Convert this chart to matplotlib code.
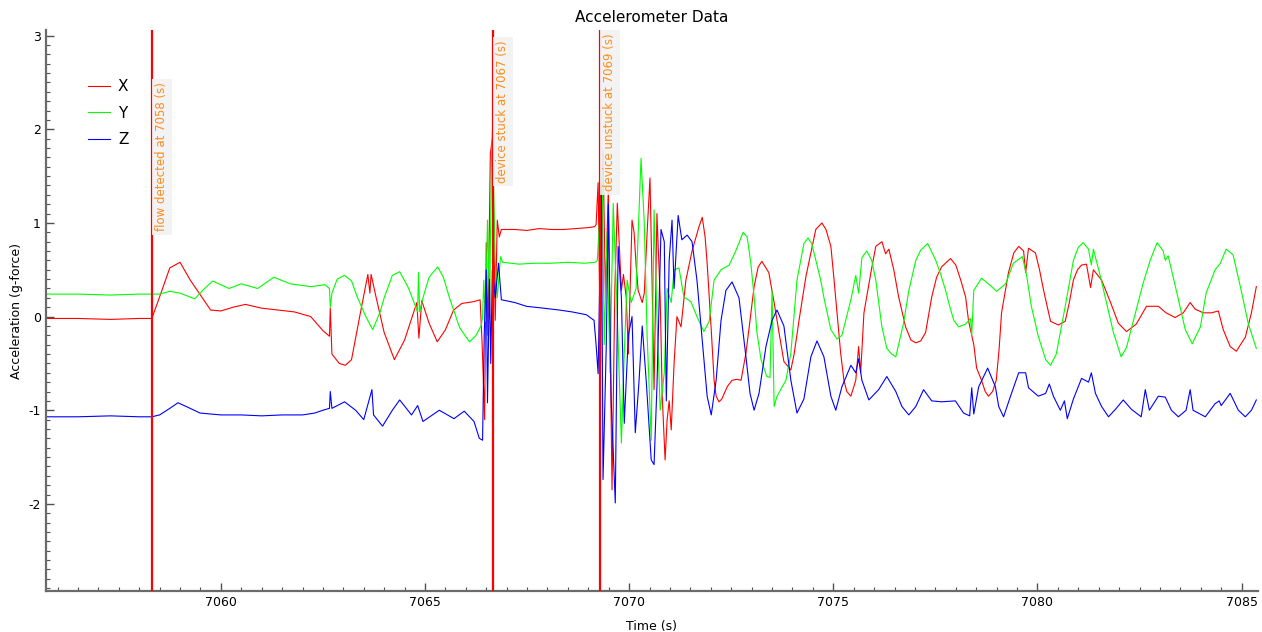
import matplotlib
matplotlib.use("Agg")
import matplotlib.pyplot as plt
from matplotlib.ticker import MultipleLocator

plt.rcParams["axes.unicode_minus"] = False

# accelerometer samples: (time s, acceleration g)
x_pts = [(7055.71, -0.02), (7056.5, -0.02), (7057.3, -0.03), (7058.0, -0.02), (7058.31, -0.02),
         (7058.5, 0.21), (7058.75, 0.52), (7059.0, 0.58), (7059.25, 0.39), (7059.5, 0.23),
         (7059.75, 0.07), (7060.0, 0.06), (7060.3, 0.10), (7060.6, 0.13), (7061.0, 0.09),
         (7061.4, 0.07), (7061.8, 0.05), (7062.2, 0.0), (7062.5, -0.15), (7062.66, -0.21),
         (7062.68, 0.09), (7062.72, -0.40), (7062.9, -0.50), (7063.05, -0.52), (7063.2, -0.46),
         (7063.4, 0.0), (7063.6, 0.45), (7063.65, 0.25), (7063.68, 0.45), (7063.8, 0.21),
         (7064.0, -0.17), (7064.25, -0.46), (7064.5, -0.25), (7064.8, 0.15), (7064.85, -0.23),
         (7064.92, 0.17), (7065.1, -0.07), (7065.3, -0.27), (7065.5, -0.14), (7065.7, 0.07),
         (7065.9, 0.14), (7066.2, 0.16), (7066.35, 0.18),
         (7066.40, -0.3), (7066.46, -1.1), (7066.50, 0.79), (7066.54, -0.2), (7066.60, 1.74),
         (7066.65, 1.9), (7066.72, -0.04), (7066.77, 1.03), (7066.82, 0.85), (7066.87, 0.93),
         (7067.2, 0.93), (7067.5, 0.92), (7067.8, 0.94), (7068.1, 0.93), (7068.4, 0.93),
         (7068.7, 0.94), (7069.0, 0.95), (7069.15, 0.96),
         (7069.19, 0.98), (7069.24, 1.43), (7069.30, -0.5), (7069.36, 1.78), (7069.42, 0.2),
         (7069.49, 1.39), (7069.58, -1.85), (7069.65, 0.3), (7069.71, 1.21), (7069.81, 0.28),
         (7069.86, 0.45), (7069.93, 0.2), (7069.98, -0.4), (7070.07, 1.03), (7070.12, 0.9),
         (7070.17, 0.55), (7070.22, 0.28), (7070.32, 0.15), (7070.37, 0.25), (7070.44, 0.9),
         (7070.51, 1.48), (7070.56, 0.4), (7070.61, -0.78), (7070.68, 1.1), (7070.76, 0.2),
         (7070.81, -0.85), (7070.88, -1.53), (7070.93, -1.1), (7070.98, -0.9), (7071.03, -1.21),
         (7071.10, -0.5), (7071.17, 0.0), (7071.27, -0.11), (7071.39, 0.39), (7071.54, 0.7),
         (7071.71, 0.96), (7071.79, 1.06), (7071.86, 0.85), (7071.91, 0.57), (7072.01, -0.14),
         (7072.08, -0.68), (7072.13, -0.85), (7072.20, -0.91), (7072.27, -0.88), (7072.40, -0.75),
         (7072.52, -0.68), (7072.64, -0.67), (7072.74, -0.68), (7072.86, -0.39), (7072.96, -0.04),
         (7073.06, 0.32), (7073.16, 0.53), (7073.25, 0.59), (7073.42, 0.47), (7073.55, 0.15),
         (7073.67, -0.17), (7073.79, -0.48), (7073.96, -0.57), (7074.04, -0.4), (7074.16, -0.04),
         (7074.33, 0.43), (7074.57, 0.93), (7074.72, 1.0), (7074.82, 0.93), (7074.94, 0.75),
         (7075.01, 0.43), (7075.09, 0.04), (7075.18, -0.39), (7075.26, -0.68), (7075.33, -0.8),
         (7075.43, -0.85), (7075.55, -0.68), (7075.62, -0.32), (7075.67, -0.6), (7075.75, 0.04),
         (7075.92, 0.47), (7076.04, 0.75), (7076.19, 0.8), (7076.28, 0.67), (7076.36, 0.72),
         (7076.48, 0.5), (7076.60, 0.21), (7076.77, -0.11), (7076.9, -0.25), (7077.02, -0.28),
         (7077.14, -0.26), (7077.26, -0.17), (7077.41, 0.21), (7077.53, 0.42), (7077.65, 0.53),
         (7077.87, 0.62), (7078.0, 0.55), (7078.12, 0.39), (7078.24, 0.21), (7078.31, -0.04),
         (7078.44, -0.3), (7078.51, -0.55), (7078.63, -0.68), (7078.72, -0.8), (7078.8, -0.85),
         (7078.9, -0.8), (7078.99, -0.68), (7079.06, -0.35), (7079.12, 0.04), (7079.29, 0.47),
         (7079.42, 0.68), (7079.54, 0.75), (7079.66, 0.70), (7079.71, 0.47), (7079.78, 0.73),
         (7079.95, 0.68), (7080.05, 0.5), (7080.15, 0.28), (7080.32, -0.05), (7080.51, -0.09),
         (7080.68, -0.05), (7080.78, 0.15), (7080.88, 0.39), (7080.98, 0.5), (7081.08, 0.55),
         (7081.2, 0.56), (7081.3, 0.31), (7081.37, 0.5), (7081.57, 0.39), (7081.79, 0.15),
         (7081.98, -0.07), (7082.18, -0.16), (7082.42, -0.08), (7082.67, 0.11), (7082.96, 0.11),
         (7083.15, 0.04), (7083.37, -0.01), (7083.57, 0.04), (7083.74, 0.15), (7083.86, 0.08),
         (7084.06, 0.04), (7084.26, 0.04), (7084.43, 0.06), (7084.55, -0.14), (7084.72, -0.32),
         (7084.87, -0.37), (7085.09, -0.22), (7085.24, 0.04), (7085.36, 0.32)]

y_pts = [(7055.71, 0.24), (7056.5, 0.24), (7057.3, 0.23), (7058.0, 0.24), (7058.31, 0.24),
         (7058.5, 0.24), (7058.75, 0.27), (7059.0, 0.25), (7059.36, 0.19), (7059.6, 0.3),
         (7059.8, 0.38), (7060.2, 0.3), (7060.5, 0.35), (7060.9, 0.30), (7061.3, 0.42),
         (7061.7, 0.35), (7062.2, 0.32), (7062.55, 0.34), (7062.66, 0.30), (7062.68, 0.10),
         (7062.72, 0.25), (7062.85, 0.4), (7063.03, 0.44), (7063.2, 0.38), (7063.35, 0.2),
         (7063.55, 0.0), (7063.72, -0.14), (7063.9, 0.05), (7064.0, 0.2), (7064.2, 0.44),
         (7064.38, 0.48), (7064.6, 0.3), (7064.82, 0.05), (7064.84, 0.47), (7064.87, 0.05),
         (7064.95, 0.2), (7065.1, 0.42), (7065.31, 0.53), (7065.45, 0.42), (7065.6, 0.2),
         (7065.85, -0.12), (7066.09, -0.27), (7066.25, -0.2), (7066.38, -0.09),
         (7066.41, 0.0), (7066.44, 0.39), (7066.48, -0.05), (7066.53, 1.03), (7066.58, 0.1),
         (7066.63, 1.7), (7066.65, 1.99), (7066.72, 0.6), (7066.77, 0.2), (7066.85, 0.64),
         (7066.9, 0.58), (7067.3, 0.56), (7067.7, 0.57), (7068.1, 0.57), (7068.5, 0.58),
         (7068.9, 0.57), (7069.17, 0.58),
         (7069.22, 0.6), (7069.34, 1.53), (7069.39, -0.3), (7069.46, 0.9), (7069.53, -0.6),
         (7069.61, 1.21), (7069.71, 0.0), (7069.81, -1.35), (7069.88, -0.39), (7069.95, 0.39),
         (7070.05, 0.15), (7070.17, 0.3), (7070.29, 1.69), (7070.37, 1.0), (7070.44, -0.2),
         (7070.54, -1.32), (7070.61, 1.14), (7070.68, 0.0), (7070.76, -1.0), (7070.86, -0.6),
         (7070.93, 0.3), (7071.03, 0.15), (7071.10, 0.5), (7071.22, 0.52), (7071.34, 0.21),
         (7071.51, 0.16), (7071.66, 0.0), (7071.83, -0.16), (7071.96, -0.05), (7072.08, 0.39),
         (7072.25, 0.5), (7072.45, 0.55), (7072.62, 0.71), (7072.79, 0.9), (7072.89, 0.85),
         (7072.98, 0.57), (7073.06, 0.21), (7073.13, -0.17), (7073.23, -0.46), (7073.37, -0.64),
         (7073.45, -0.65), (7073.5, 0.28), (7073.55, -0.96), (7073.62, -0.85), (7073.84, -0.68),
         (7073.96, -0.39), (7074.11, 0.39), (7074.28, 0.78), (7074.38, 0.84), (7074.47, 0.78),
         (7074.59, 0.57), (7074.69, 0.39), (7074.78, 0.18), (7074.94, -0.14), (7075.09, -0.24),
         (7075.21, -0.2), (7075.43, 0.18), (7075.55, 0.44), (7075.62, 0.25), (7075.7, 0.63),
         (7075.82, 0.7), (7075.94, 0.6), (7076.04, 0.39), (7076.19, -0.11), (7076.31, -0.34),
         (7076.43, -0.4), (7076.53, -0.43), (7076.72, -0.07), (7076.85, 0.28), (7077.02, 0.6),
         (7077.14, 0.71), (7077.31, 0.78), (7077.51, 0.6), (7077.63, 0.45), (7077.75, 0.28),
         (7077.85, 0.11), (7077.95, -0.04), (7078.07, -0.11), (7078.24, -0.08), (7078.36, -0.02),
         (7078.39, -0.2), (7078.44, 0.28), (7078.63, 0.41), (7078.85, 0.33), (7079.0, 0.27),
         (7079.22, 0.35), (7079.41, 0.57), (7079.63, 0.64), (7079.73, 0.45), (7079.85, 0.11),
         (7080.02, -0.21), (7080.2, -0.46), (7080.32, -0.52), (7080.46, -0.4), (7080.68, 0.11),
         (7080.88, 0.6), (7081.0, 0.74), (7081.12, 0.79), (7081.25, 0.72), (7081.32, 0.55),
         (7081.37, 0.72), (7081.54, 0.43), (7081.69, 0.15), (7081.86, -0.17), (7082.05, -0.43),
         (7082.18, -0.33), (7082.4, 0.04), (7082.59, 0.36), (7082.76, 0.6), (7082.93, 0.79),
         (7083.08, 0.7), (7083.13, 0.6), (7083.2, 0.65), (7083.4, 0.28), (7083.62, -0.14),
         (7083.79, -0.29), (7083.99, -0.11), (7084.13, 0.25), (7084.35, 0.5), (7084.48, 0.57),
         (7084.62, 0.72), (7084.79, 0.66), (7084.99, 0.28), (7085.16, -0.07), (7085.36, -0.34)]

z_pts = [(7055.71, -1.07), (7056.5, -1.07), (7057.3, -1.06), (7058.0, -1.07), (7058.31, -1.07),
         (7058.5, -1.05), (7058.75, -0.98), (7058.95, -0.92), (7059.2, -0.97), (7059.49, -1.03),
         (7060.0, -1.05), (7060.5, -1.05), (7061.0, -1.06), (7061.5, -1.05), (7062.0, -1.05),
         (7062.3, -1.03), (7062.5, -1.0), (7062.66, -0.98), (7062.68, -0.8), (7062.72, -0.98),
         (7063.03, -0.91), (7063.3, -1.0), (7063.5, -1.1), (7063.7, -0.78), (7063.74, -1.05),
         (7063.96, -1.17), (7064.2, -1.0), (7064.38, -0.89), (7064.67, -1.05), (7064.82, -0.95),
         (7064.95, -1.12), (7065.35, -1.0), (7065.71, -1.09), (7065.96, -1.01), (7066.2, -1.12),
         (7066.33, -1.3),
         (7066.41, -1.32), (7066.45, -0.2), (7066.50, 0.5), (7066.53, -0.92), (7066.58, 0.4),
         (7066.61, -0.5), (7066.65, 0.5), (7066.72, 0.2), (7066.80, 0.57), (7066.87, 0.18),
         (7067.2, 0.15), (7067.48, 0.11), (7067.9, 0.09), (7068.29, 0.07), (7068.6, 0.05),
         (7068.95, 0.02), (7069.14, -0.04), (7069.19, -0.3),
         (7069.24, -0.61), (7069.32, 1.42), (7069.36, -1.74), (7069.44, -0.3), (7069.49, 1.2),
         (7069.56, -0.9), (7069.66, -1.99), (7069.73, 0.75), (7069.81, 0.2), (7069.88, -1.14),
         (7069.98, -0.2), (7070.07, 0.0), (7070.15, -1.24), (7070.24, -0.7), (7070.32, -0.1),
         (7070.42, -0.7), (7070.54, -1.53), (7070.61, -1.58), (7070.68, -0.75), (7070.78, 0.93),
         (7070.86, 0.8), (7070.91, -0.9), (7070.98, 0.6), (7071.05, 1.03), (7071.10, 0.3),
         (7071.20, 1.08), (7071.29, 0.82), (7071.42, 0.87), (7071.54, 0.8), (7071.66, 0.39),
         (7071.79, -0.25), (7071.91, -0.85), (7072.01, -1.05), (7072.13, -0.68), (7072.25, -0.04),
         (7072.37, 0.28), (7072.52, 0.37), (7072.69, 0.2), (7072.86, -0.43), (7072.96, -0.82),
         (7073.06, -1.0), (7073.18, -0.82), (7073.35, -0.32), (7073.5, -0.04), (7073.62, 0.07),
         (7073.79, -0.1), (7073.96, -0.68), (7074.11, -1.03), (7074.28, -0.88), (7074.45, -0.43),
         (7074.6, -0.26), (7074.77, -0.43), (7074.94, -0.85), (7075.06, -1.0), (7075.21, -0.75),
         (7075.43, -0.52), (7075.55, -0.6), (7075.62, -0.45), (7075.7, -0.68), (7075.87, -0.89),
         (7076.11, -0.78), (7076.31, -0.64), (7076.53, -0.8), (7076.68, -0.96), (7076.85, -1.05),
         (7077.02, -0.96), (7077.21, -0.78), (7077.41, -0.9), (7077.65, -0.91), (7077.99, -0.9),
         (7078.19, -1.03), (7078.34, -1.06), (7078.39, -0.76), (7078.44, -1.04), (7078.56, -0.75),
         (7078.78, -0.55), (7078.97, -0.75), (7079.05, -0.96), (7079.17, -1.07), (7079.34, -0.85),
         (7079.54, -0.6), (7079.71, -0.6), (7079.78, -0.76), (7080.02, -0.85), (7080.2, -0.82),
         (7080.29, -0.72), (7080.39, -0.85), (7080.56, -1.0), (7080.66, -0.9), (7080.73, -1.09),
         (7080.88, -0.88), (7081.08, -0.66), (7081.25, -0.7), (7081.32, -0.6), (7081.42, -0.82),
         (7081.57, -0.96), (7081.74, -1.07), (7081.91, -0.99), (7082.1, -0.89), (7082.3, -0.99),
         (7082.54, -1.07), (7082.64, -0.78), (7082.74, -1.0), (7082.96, -0.85), (7083.13, -0.86),
         (7083.28, -1.0), (7083.45, -1.07), (7083.64, -1.0), (7083.74, -0.78), (7083.81, -1.0),
         (7084.11, -1.07), (7084.35, -0.93), (7084.45, -0.9), (7084.5, -0.95), (7084.72, -0.82),
         (7084.92, -1.0), (7085.09, -1.07), (7085.24, -1.0), (7085.36, -0.89)]

# event markers
event_t = [7058.31, 7066.67, 7069.29]
event_labels = ["flow detected at 7058 (s)", "device stuck at 7067 (s)",
                "device unstuck at 7069 (s)"]
event_label_top = [2.5, 2.95, 3.02]

fig = plt.figure(figsize=(12.62, 6.32), dpi=100)
ax = fig.add_axes([0.0362, 0.0649, 0.9606, 0.8876])

for pts, col, lab in [(x_pts, "#ff0000", "X"), (y_pts, "#00ff00", "Y"), (z_pts, "#0000ff", "Z")]:
    t, v = zip(*pts)
    ax.plot(t, v, color=col, lw=0.8, label=lab)

for t, lab, top in zip(event_t, event_labels, event_label_top):
    ax.axvline(t, color="#ff0000", lw=1.6, zorder=5)
    ax.text(t + 0.08, top, lab, rotation=90, va="top", ha="left", fontsize=8.5,
            color="#ff8c1a", zorder=6,
            bbox=dict(facecolor="#f2f2f2", edgecolor="none", pad=2.5, alpha=0.9))

ax.set_xlim(7055.71, 7085.4)
ax.set_ylim(-2.93, 3.06)
ax.xaxis.set_major_locator(MultipleLocator(5))
ax.xaxis.set_minor_locator(MultipleLocator(0.5))
ax.yaxis.set_major_locator(MultipleLocator(1))
ax.yaxis.set_minor_locator(MultipleLocator(0.1))
ax.tick_params(which="both", direction="in", color="#505050", labelsize=9)
ax.tick_params(which="major", length=6, width=1)
ax.tick_params(which="minor", length=3, width=0.8)

for s in ["top", "right"]:
    ax.spines[s].set_visible(False)
for s in ["left", "bottom"]:
    ax.spines[s].set_color("#6a6a6a")
    ax.spines[s].set_linewidth(1.6)

ax.set_title("Accelerometer Data", fontsize=11, pad=6)
ax.set_xlabel("Time (s)", fontsize=9, labelpad=8)
ax.set_ylabel("Acceleration (g-force)", fontsize=9, labelpad=4)

ax.legend(loc="upper left", bbox_to_anchor=(0.035, 0.912), frameon=False,
          fontsize=11, handlelength=1.45, handletextpad=0.5, labelspacing=0.75,
          borderpad=0, borderaxespad=0)

fig.savefig("out.png", dpi=100)
